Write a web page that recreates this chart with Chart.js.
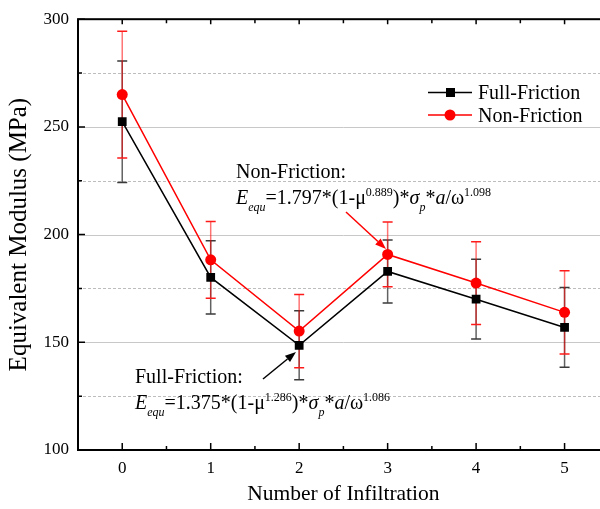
<!DOCTYPE html>
<html lang="en">
<head>
<meta charset="UTF-8" />
<title>Equivalent Modulus vs Number of Infiltration</title>
<style>
  html, body { margin: 0; padding: 0; background: #fff; overflow: hidden; }
  .wrap { width: 615px; height: 509px; }
</style>
</head>
<body>
<div class="wrap"><canvas id="modulusChart" width="615" height="509"></canvas></div>

<script src="https://cdn.jsdelivr.net/npm/chart.js"></script>
<script>
  // measured modulus (MPa) and standard deviation per infiltration count
  const infiltration = [0, 1, 2, 3, 4, 5];
  const fullFriction = [252.4, 180.1, 148.6, 182.9, 170.0, 156.9];
  const fullFrictionErr = [28.2, 17.0, 16.0, 14.6, 18.5, 18.5];
  const nonFriction = [265.0, 188.3, 155.2, 190.8, 177.5, 163.9];
  const nonFrictionErr = [29.4, 17.8, 17.0, 15.0, 19.2, 19.3];

  const yMajorTicks = [100, 150, 200, 250, 300];
  const yMinorTicks = [125, 175, 225, 275];
  const xMinorTicks = [-0.5, 0.5, 1.5, 2.5, 3.5, 4.5, 5.5];

  const SERIF = "'Liberation Serif', 'Times New Roman', serif";

  function toPoints(ys) {
    return infiltration.map((x, i) => ({ x: x, y: ys[i] }));
  }

  // text runs: [text, italic, size, baseline shift]
  function drawRuns(ctx, runs, x, y) {
    runs.forEach(r => {
      ctx.font = (r[1] ? 'italic ' : '') + r[2] + 'px ' + SERIF;
      ctx.fillText(r[0], x, y + r[3]);
      x += ctx.measureText(r[0]).width;
    });
  }

  function formula(coef, muExp, omegaExp) {
    return [
      ['E', true, 20, 0], ['equ', true, 12, 7],
      ['=' + coef + '*(1-\u03bc', false, 20, 0], [muExp, false, 12, -8],
      [')*', false, 20, 0], ['\u03c3', true, 20, 0], ['p', true, 12, 7],
      ['*', false, 20, 0], ['a', true, 20, 0], ['/\u03c9', false, 20, 0],
      [omegaExp, false, 12, -8]
    ];
  }

  function arrow(ctx, x0, y0, x1, y1, color) {
    const ang = Math.atan2(y1 - y0, x1 - x0);
    const len = 11, half = 4;
    const bx = x1 - len * Math.cos(ang), by = y1 - len * Math.sin(ang);
    ctx.strokeStyle = color;
    ctx.fillStyle = color;
    ctx.lineWidth = 1.5;
    ctx.beginPath();
    ctx.moveTo(x0, y0);
    ctx.lineTo(bx, by);
    ctx.stroke();
    ctx.beginPath();
    ctx.moveTo(x1, y1);
    ctx.lineTo(bx + half * Math.sin(ang), by - half * Math.cos(ang));
    ctx.lineTo(bx - half * Math.sin(ang), by + half * Math.cos(ang));
    ctx.closePath();
    ctx.fill();
  }

  const framePlugin = {
    id: 'frame',
    beforeDatasetsDraw(chart) {
      const { ctx, chartArea: a, scales: { x, y } } = chart;
      ctx.save();
      ctx.lineWidth = 1;
      ctx.strokeStyle = '#c8c8c8';
      yMajorTicks.slice(1, -1).forEach(v => {
        const py = Math.round(y.getPixelForValue(v)) + 0.5;
        ctx.beginPath(); ctx.moveTo(a.left, py); ctx.lineTo(a.right, py); ctx.stroke();
      });
      ctx.setLineDash([3, 2]);
      ctx.strokeStyle = '#bdbdbd';
      yMinorTicks.forEach(v => {
        const py = Math.round(y.getPixelForValue(v)) + 0.5;
        ctx.beginPath(); ctx.moveTo(a.left, py); ctx.lineTo(a.right, py); ctx.stroke();
      });
      ctx.setLineDash([]);

      // error bars sit under the markers
      chart.data.datasets.forEach(ds => {
        ds.data.forEach((p, i) => {
          const px = x.getPixelForValue(p.x);
          const top = y.getPixelForValue(p.y + ds.errors[i]);
          const bot = y.getPixelForValue(p.y - ds.errors[i]);
          ctx.lineWidth = 1.5;
          ctx.strokeStyle = ds.errorColor;
          ctx.beginPath(); ctx.moveTo(px, top); ctx.lineTo(px, bot); ctx.stroke();
          ctx.strokeStyle = ds.capColor;
          ctx.beginPath();
          ctx.moveTo(px - 5, top); ctx.lineTo(px + 5, top);
          ctx.moveTo(px - 5, bot); ctx.lineTo(px + 5, bot);
          ctx.stroke();
        });
      });
      ctx.restore();
    },
    afterDatasetsDraw(chart) {
      const { ctx, chartArea: a, scales: { x, y } } = chart;
      ctx.save();
      ctx.strokeStyle = '#000';
      ctx.lineWidth = 1.5;
      ctx.beginPath();
      yMajorTicks.forEach(v => {
        const py = y.getPixelForValue(v);
        ctx.moveTo(a.left, py); ctx.lineTo(a.left + 7, py);
        ctx.moveTo(a.right, py); ctx.lineTo(a.right - 7, py);
      });
      yMinorTicks.forEach(v => {
        const py = y.getPixelForValue(v);
        ctx.moveTo(a.left, py); ctx.lineTo(a.left + 4, py);
        ctx.moveTo(a.right, py); ctx.lineTo(a.right - 4, py);
      });
      infiltration.forEach(v => {
        const px = x.getPixelForValue(v);
        ctx.moveTo(px, a.bottom); ctx.lineTo(px, a.bottom - 7);
        ctx.moveTo(px, a.top); ctx.lineTo(px, a.top + 5);
      });
      xMinorTicks.forEach(v => {
        const px = x.getPixelForValue(v);
        ctx.moveTo(px, a.bottom); ctx.lineTo(px, a.bottom - 4);
        ctx.moveTo(px, a.top); ctx.lineTo(px, a.top + 4);
      });
      ctx.stroke();
      ctx.lineWidth = 2;
      ctx.strokeRect(a.left, a.top, a.right - a.left, a.bottom - a.top);
      ctx.restore();
    },
    afterDraw(chart) {
      const { ctx } = chart;
      const sets = chart.data.datasets;
      ctx.save();
      ctx.fillStyle = '#000';
      ctx.textBaseline = 'alphabetic';
      ctx.textAlign = 'left';

      // legend
      [[sets[0], 92.5, 98.5], [sets[1], 115, 121.5]].forEach(([ds, ly, by]) => {
        ctx.strokeStyle = ds.borderColor;
        ctx.lineWidth = 1.5;
        ctx.beginPath(); ctx.moveTo(428, ly); ctx.lineTo(472, ly); ctx.stroke();
        ctx.fillStyle = ds.backgroundColor;
        if (ds.pointStyle === 'rect') {
          ctx.fillRect(446, ly - 4.5, 9, 9);
        } else {
          ctx.beginPath(); ctx.arc(450, ly, 5.5, 0, Math.PI * 2); ctx.fill();
        }
        ctx.fillStyle = '#000';
        ctx.font = '20px ' + SERIF;
        ctx.fillText(ds.label, 478, by);
      });

      // fitted-relation notes
      ctx.fillStyle = '#000';
      ctx.font = '20px ' + SERIF;
      ctx.fillText('Non-Friction:', 236, 177.5);
      drawRuns(ctx, formula('1.797', '0.889', '1.098'), 236, 203.5);
      ctx.font = '20px ' + SERIF;
      ctx.fillText('Full-Friction:', 135, 383);
      drawRuns(ctx, formula('1.375', '1.286', '1.086'), 135, 409);

      arrow(ctx, 346, 212, 386, 249, '#ff0000');
      arrow(ctx, 263, 379, 296, 352, '#000000');
      ctx.restore();
    }
  };

  new Chart(document.getElementById('modulusChart'), {
    type: 'line',
    data: {
      datasets: [
        {
          label: 'Full-Friction',
          data: toPoints(fullFriction),
          errors: fullFrictionErr,
          errorColor: 'rgba(0,0,0,0.62)',
          capColor: '#3a3a3a',
          borderColor: '#000000',
          backgroundColor: '#000000',
          borderWidth: 1.5,
          pointStyle: 'rect',
          pointRadius: 6.2,
          pointBorderWidth: 0,
          tension: 0
        },
        {
          label: 'Non-Friction',
          data: toPoints(nonFriction),
          errors: nonFrictionErr,
          errorColor: 'rgba(255,0,0,0.55)',
          capColor: '#ff1a1a',
          borderColor: '#ff0000',
          backgroundColor: '#ff0000',
          borderWidth: 1.5,
          pointStyle: 'circle',
          pointRadius: 5.5,
          pointBorderWidth: 0,
          tension: 0
        }
      ]
    },
    options: {
      responsive: false,
      animation: false,
      devicePixelRatio: 1,
      layout: { padding: { top: 18, right: 3, bottom: 0, left: 0 } },
      plugins: { legend: { display: false }, tooltip: { enabled: false } },
      scales: {
        x: {
          type: 'linear',
          min: -0.5,
          max: 5.5,
          afterFit: s => { s.height = 59; },
          afterBuildTicks: s => { s.ticks = infiltration.map(v => ({ value: v })); },
          grid: { display: false, drawTicks: false },
          border: { display: false },
          ticks: { color: '#000', font: { family: SERIF, size: 17 }, padding: 8, maxRotation: 0 },
          title: {
            display: true,
            text: 'Number of Infiltration',
            color: '#000',
            font: { family: SERIF, size: 21.5 },
            padding: { top: 0, bottom: 2 }
          }
        },
        y: {
          min: 100,
          max: 300,
          afterFit: s => { s.width = 78; },
          afterBuildTicks: s => { s.ticks = yMajorTicks.map(v => ({ value: v })); },
          grid: { display: false, drawTicks: false },
          border: { display: false },
          ticks: { color: '#000', font: { family: SERIF, size: 17 }, padding: 9 },
          title: {
            display: true,
            text: 'Equivalent Modulus (MPa)',
            color: '#000',
            font: { family: SERIF, size: 25 },
            padding: { top: 4, bottom: 0 }
          }
        }
      }
    },
    plugins: [framePlugin]
  });
</script>
</body>
</html>
